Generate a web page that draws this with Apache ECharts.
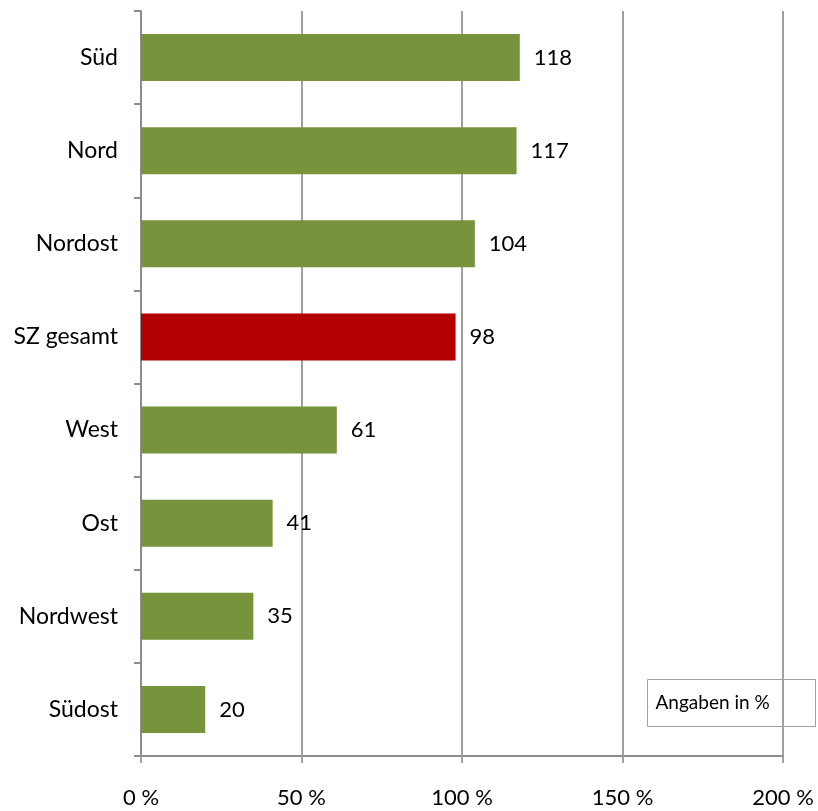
<!DOCTYPE html>
<html>
<head>
<meta charset="utf-8">
<script src="https://cdn.jsdelivr.net/npm/echarts@6/dist/echarts.min.js"></script>
<style>
  html, body { margin: 0; padding: 0; background: #fff; }
  #chart { width: 818px; height: 811px; }
</style>
</head>
<body>
<div id="chart"></div>
<script>
// Regions, top to bottom
const regions = ['Süd', 'Nord', 'Nordost', 'SZ gesamt', 'West', 'Ost', 'Nordwest', 'Südost'];
// Share in percent
const values = [118, 117, 104, 98, 61, 41, 35, 20];
// The overall value is highlighted
const highlight = 'SZ gesamt';
const xTicks = { min: 0, max: 200, interval: 50 };

const FONT = 'Lato, "Open Sans", sans-serif';
const GREEN = '#77933c';
const RED = '#b30000';

const chart = echarts.init(document.getElementById('chart'));
chart.setOption({
  animation: false,
  grid: { left: 141, right: 35, top: 11, bottom: 55, containLabel: false },
  xAxis: {
    type: 'value',
    min: xTicks.min, max: xTicks.max, interval: xTicks.interval,
    axisLine: { show: true, lineStyle: { color: '#8c8c8c', width: 2 } },
    axisTick: { show: true, length: 7, lineStyle: { color: '#a0a0a0', width: 2 } },
    splitLine: { show: true, lineStyle: { color: '#a0a0a0', width: 2 } },
    axisLabel: { formatter: '{value} %', margin: 31, color: '#000', fontSize: 22, fontFamily: FONT }
  },
  yAxis: {
    type: 'category',
    data: regions,
    inverse: true,
    axisLine: { show: true, lineStyle: { color: '#8c8c8c', width: 2 } },
    axisTick: { show: true, length: 7, alignWithLabel: false, lineStyle: { color: '#8c8c8c', width: 2 } },
    axisLabel: { margin: 23, color: '#000', fontSize: 23, fontFamily: FONT, padding: [3, 0, 0, 0] }
  },
  series: [{
    type: 'bar',
    barWidth: 47,
    data: values.map((v, i) => ({
      value: v,
      itemStyle: { color: regions[i] === highlight ? RED : GREEN }
    })),
    label: {
      show: true, position: 'right', distance: 14,
      color: '#000', fontSize: 22, fontFamily: FONT
    }
  }],
  graphic: [{
    type: 'group',
    left: 647, top: 679,
    children: [
      { type: 'rect', shape: { x: 0, y: 0, width: 168, height: 47 },
        style: { fill: '#fff', stroke: '#a0a0a0', lineWidth: 1 } },
      { type: 'text', x: 8, y: 23,
        style: { text: 'Angaben in %', fill: '#000', fontSize: 19, fontFamily: FONT, verticalAlign: 'middle' } }
    ]
  }]
});
</script>
</body>
</html>
